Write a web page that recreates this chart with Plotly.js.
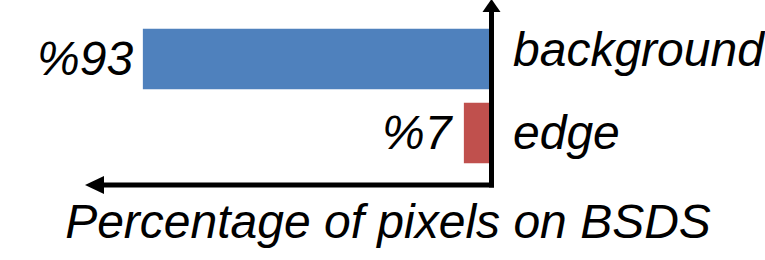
<!DOCTYPE html>
<html>
<head>
<meta charset="utf-8">
<script src="https://cdn.plot.ly/plotly-3.0.1.min.js"></script>
<style>html,body{margin:0;padding:0;background:#fff;}#chart{width:765px;height:260px;}</style>
</head>
<body>
<div id="chart"></div>
<script>
// ---- data ----
var categories = ['background', 'edge'];
var percentages = [93, 7];
var valueLabels = ['%93', '%7'];
var barColors = ['#4F81BD', '#C0504D'];
var chartTitle = 'Percentage of pixels on BSDS';

// ---- layout helpers (pixel -> paper) ----
var L = 85, R = 490, T = 0, B = 185;
function px(x) { return (x - L) / (R - L); }
function py(y) { return (B - y) / (B - T); }

var font = {family: 'Liberation Sans, Arial, sans-serif', size: 48, color: '#000', style: 'italic'};
var catLabelShift = [9, 0];

var trace = {
  type: 'bar',
  orientation: 'h',
  x: percentages,
  y: categories,
  width: 0.82,
  marker: {color: barColors, line: {width: 0}},
  hoverinfo: 'skip'
};

var annotations = [];
categories.forEach(function (c, i) {
  // value label, left of the bar end
  annotations.push({
    x: percentages[i], y: c, xref: 'x', yref: 'y',
    text: valueLabels[i], showarrow: false,
    xanchor: 'right', yanchor: 'middle', xshift: -8,
    font: font
  });
  // category label, right of the vertical axis
  annotations.push({
    x: 1, y: c, xref: 'paper', yref: 'y',
    text: c, showarrow: false,
    xanchor: 'left', yanchor: 'middle', xshift: 21, yshift: catLabelShift[i],
    font: font
  });
});

var lineW = 5;
var shapes = [
  {type: 'line', xref: 'paper', yref: 'paper', x0: px(100), x1: px(494), y0: py(185), y1: py(185), line: {color: '#000', width: lineW}},
  {type: 'path', xref: 'paper', yref: 'paper',
   path: 'M ' + px(85) + ',' + py(185) + ' L ' + px(104) + ',' + py(176) + ' L ' + px(104) + ',' + py(194) + ' Z',
   fillcolor: '#000', line: {width: 0}},
  {type: 'line', xref: 'paper', yref: 'paper', x0: px(491.5), x1: px(491.5), y0: py(187.5), y1: py(10), line: {color: '#000', width: lineW}},
  {type: 'path', xref: 'paper', yref: 'paper',
   path: 'M ' + px(491.5) + ',' + py(-1) + ' L ' + px(482.5) + ',' + py(12) + ' L ' + px(500.5) + ',' + py(12) + ' Z',
   fillcolor: '#000', line: {width: 0}}
];

var layout = {
  width: 765, height: 260,
  margin: {l: L, r: 765 - R, t: T, b: 260 - B, pad: 0},
  paper_bgcolor: '#fff', plot_bgcolor: '#fff',
  showlegend: false,
  title: {text: chartTitle, font: font, x: 388 / 765, xanchor: 'center', xref: 'container', yref: 'container', y: 0.148, yanchor: 'middle'},
  xaxis: {range: [108.5, 0], visible: false, fixedrange: true},
  yaxis: {
    type: 'category', categoryorder: 'array', categoryarray: categories.slice().reverse(),
    range: [-0.7027, 1.797], showgrid: false, zeroline: false, showline: false,
    ticks: '', showticklabels: false, fixedrange: true
  },
  shapes: shapes,
  annotations: annotations
};

Plotly.newPlot('chart', [trace], layout, {displayModeBar: false, staticPlot: true});
</script>
</body>
</html>
